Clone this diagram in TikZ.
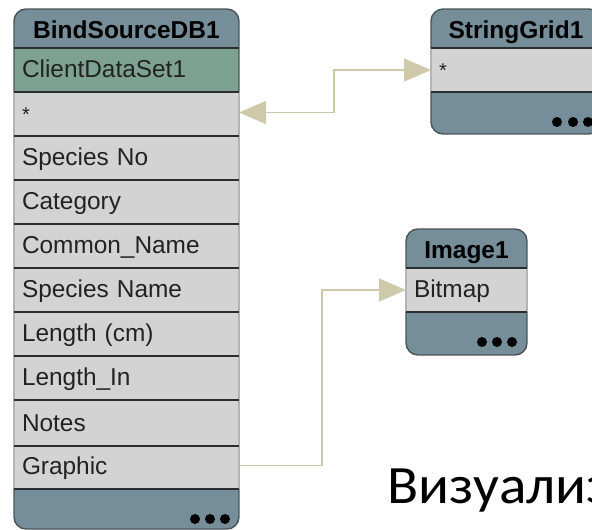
\documentclass[tikz,border=0pt]{standalone}
\usepackage{fontspec}
\usepackage{graphicx}
\setmainfont{Liberation Sans}
\newfontfamily\cyrfont{Carlito}
\usetikzlibrary{arrows.meta}
\definecolor{slatecol}{HTML}{768E9A}
\definecolor{greencol}{HTML}{7DA292}
\definecolor{rowcol}{HTML}{D3D3D3}
\definecolor{tancol}{HTML}{CFC9AB}
\definecolor{linecol}{HTML}{2A2E30}
\definecolor{edgecol}{HTML}{4A5458}
\definecolor{sidecol}{HTML}{B4B4B4}
\definecolor{inkcol}{HTML}{222222}
\newcommand{\smallstar}{{\fontsize{20}{24}\selectfont *}}
\tikzset{
  cell/.style={draw=none,anchor=north west,inner sep=0pt,outer sep=0pt,minimum height=44pt,text height=22.5pt,text depth=7.5pt},
  bindw/.style={minimum width=225pt,text width=221pt},
  gridw/.style={minimum width=170pt,text width=166pt},
  imagew/.style={minimum width=121pt,text width=117pt},
  headcell/.style={cell,fill=slatecol,minimum height=39pt,text height=24.5pt,text depth=5.5pt,align=center,font=\fontsize{24.5}{28}\selectfont\bfseries,text=black},
  rowcell/.style={cell,fill=rowcol,align=left,font=\fontsize{24.4}{28}\selectfont,text=inkcol},
  greencell/.style={rowcell,fill=greencol},
  footcell/.style={cell,fill=slatecol,minimum height=42pt},
  dotmark/.style={circle,fill=black,inner sep=0pt,minimum size=10pt},
  sepline/.style={draw=linecol,line width=1.6pt},
  outline/.style={draw=edgecol,line width=1.4pt,rounded corners=12pt},
  sideline/.style={draw=sidecol,line width=1.4pt},
  wire/.style={draw=tancol,line width=1.2pt},
}
\begin{document}
\begin{tikzpicture}[x=1pt,y=-1pt]
\useasboundingbox (0,0) rectangle (592,530);
\clip (0,0) rectangle (592,530);

% BindSourceDB1
\begin{scope}
\clip[rounded corners=12pt] (14,9) rectangle (239,529);
\node[headcell,minimum width=225pt] (bh) at (14,9) {BindSourceDB1};
\node[greencell,bindw] (b0) at (14,48) {\hspace*{6pt}ClientDataSet1};
\node[rowcell,bindw] (b1) at (14,92) {\hspace*{6pt}\smallstar};
\node[rowcell,bindw] (b2) at (14,136) {\hspace*{6pt}Species No};
\node[rowcell,bindw] (b3) at (14,180) {\hspace*{6pt}Category};
\node[rowcell,bindw] (b4) at (14,224) {\hspace*{6pt}Common\_Name};
\node[rowcell,bindw] (b5) at (14,268) {\hspace*{6pt}Species Name};
\node[rowcell,bindw] (b6) at (14,312) {\hspace*{6pt}Length (cm)};
\node[rowcell,bindw] (b7) at (14,356) {\hspace*{6pt}Length\_In};
\node[rowcell,bindw,minimum height=45pt] (b8) at (14,401) {\hspace*{6pt}Notes};
\node[rowcell,bindw] (b9) at (14,445) {\hspace*{6pt}Graphic};
\node[footcell,minimum width=225pt] (bf) at (14,489) {};
\end{scope}
\draw[outline] (14,9) rectangle (239,529);
\draw[sideline] (b1.north west) -- (b9.south west);
\draw[sideline] (b1.north east) -- (b9.south east);
\foreach \n in {bh,b0,b1,b2,b3,b4,b5,b6,b7,b8,b9}
  \draw[sepline] (\n.south west) -- (\n.south east);
\node[dotmark] (bd1) at (195,519) {};
\node[dotmark] (bd2) at (210,519) {};
\node[dotmark] (bd3) at (225,519) {};

% StringGrid1
\begin{scope}
\clip[rounded corners=12pt] (431,9) rectangle (601,134);
\node[headcell,minimum width=170pt] (gh) at (431,9) {StringGrid1};
\node[rowcell,gridw] (g1) at (431,48) {\hspace*{6pt}\smallstar};
\node[footcell,minimum width=170pt] (gf) at (431,92) {};
\end{scope}
\draw[outline] (431,9) rectangle (601,134);
\draw[sideline] (g1.north west) -- (g1.south west);
\foreach \n in {gh,g1}
  \draw[sepline] (\n.south west) -- (\n.south east);
\node[dotmark] (gd1) at (557,122) {};
\node[dotmark] (gd2) at (573,122) {};
\node[dotmark] (gd3) at (588,122) {};

% Image1
\begin{scope}
\clip[rounded corners=12pt] (406,229) rectangle (527,355);
\node[headcell,minimum width=121pt] (ih) at (406,229) {Image1};
\node[rowcell,imagew] (i1) at (406,268) {\hspace*{6pt}Bitmap};
\node[footcell,minimum width=121pt,minimum height=43pt] (if) at (406,312) {};
\end{scope}
\draw[outline] (406,229) rectangle (527,355);
\draw[sideline] (i1.north west) -- (i1.south west);
\draw[sideline] (i1.north east) -- (i1.south east);
\foreach \n in {ih,i1}
  \draw[sepline] (\n.south west) -- (\n.south east);
\node[dotmark] (id1) at (482,342) {};
\node[dotmark] (id2) at (497,342) {};
\node[dotmark] (id3) at (512,342) {};

% connectors
\coordinate (jogA) at (334,70);
\coordinate (jogB) at (322,290);
\draw[wire,{Triangle[length=27pt,width=23pt,color=tancol]}-{Triangle[length=27pt,width=23pt,color=tancol]}]
  ([yshift=1.5pt]b1.east) -| (jogA) -- (g1.west);
\draw[wire,-{Triangle[length=27pt,width=23pt,color=tancol]}]
  ([yshift=1.5pt]b9.east) -| (jogB) -- (i1.west);

% caption, cut off by the picture's edge
\node[anchor=base west,inner sep=0pt,font=\fontsize{54}{60}\selectfont\cyrfont,text=black] (cap) at (387,503) {\scalebox{1.06}[1]{Визуализ}};
\end{tikzpicture}
\end{document}
